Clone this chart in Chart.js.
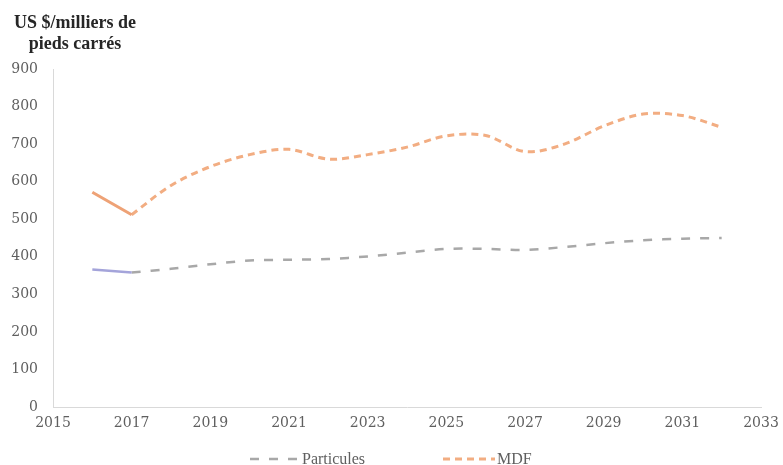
<!DOCTYPE html>
<html>
<head>
<meta charset="utf-8">
<script src="https://cdn.jsdelivr.net/npm/chart.js@4.4.1/dist/chart.umd.min.js"></script>
<style>
  html, body { margin: 0; padding: 0; background: #ffffff; }
  #wrap { width: 783px; height: 465px; position: relative; }
</style>
</head>
<body>
<div id="wrap"><canvas id="c" width="783" height="465"></canvas></div>
<script>
// Prix des panneaux, US $ par milliers de pieds carrés
const years      = [2016, 2017, 2018, 2019, 2020, 2021, 2022, 2023, 2024, 2025, 2026, 2027, 2028, 2029, 2030, 2031, 2032];
const particules = [366, 358, 368, 380, 390, 392, 394, 401, 411, 421, 421, 418, 426, 436, 444, 448, 450];
const mdf        = [572, 512, 590, 640, 672, 686, 660, 672, 692, 722, 723, 680, 700, 748, 780, 776, 745];
// number of observed years (solid); the rest is projected (dashed)
const observedCount = 2;

const seriesNames = ['Particules', 'MDF'];
const unitLines   = ['US $/milliers de', 'pieds carrés'];

const xMin = 2015, xMax = 2033, xStep = 2;
const yMin = 0, yMax = 900, yStep = 100;

const TICK_COLOR = '#5f5f5f';
const AXIS_COLOR = '#d9d9d9';
const GREY = '#a8a8a8';
const LAVENDER = '#a4a4da';
const ORANGE = '#f2ad82';
const ORANGE_SOLID = '#eea276';

const DASH_PART = [9, 10];
const DASH_MDF = [7, 5];
const TENSION = 0.33;

function points(values, from, to) {
  const xs = years.slice(from, to);
  const ys = values.slice(from, to);
  return xs.map((x, i) => ({ x: x, y: ys[i] }));
}

function lineSet(name, values, observed, color, width, dash) {
  return {
    label: name,
    data: observed ? points(values, 0, observedCount) : points(values, observedCount - 1),
    borderColor: color,
    borderWidth: width,
    borderDash: dash,
    pointRadius: 0,
    tension: TENSION,
    fill: false
  };
}

// unit caption above the y axis and the key under the x axis
const headerAndKey = {
  id: 'headerAndKey',
  afterDraw(chart) {
    const ctx = chart.ctx;
    ctx.save();
    ctx.fillStyle = '#262626';
    ctx.font = 'bold 18px "Liberation Serif"';
    ctx.textAlign = 'center';
    ctx.textBaseline = 'alphabetic';
    ctx.fillText(unitLines[0], 75, 28);
    ctx.fillText(unitLines[1], 75, 49);

    const keyY = 459;
    ctx.lineCap = 'butt';
    ctx.lineWidth = 2.5;
    ctx.strokeStyle = GREY;
    ctx.setLineDash(DASH_PART);
    ctx.beginPath(); ctx.moveTo(250, keyY); ctx.lineTo(301, keyY); ctx.stroke();
    ctx.lineWidth = 3;
    ctx.strokeStyle = ORANGE;
    ctx.setLineDash(DASH_MDF);
    ctx.beginPath(); ctx.moveTo(443, keyY); ctx.lineTo(495, keyY); ctx.stroke();
    ctx.setLineDash([]);
    ctx.fillStyle = TICK_COLOR;
    ctx.font = '16px "Liberation Serif"';
    ctx.textAlign = 'left';
    ctx.fillText(seriesNames[0], 302, 464);
    ctx.fillText(seriesNames[1], 497, 464);
    ctx.restore();
  }
};

new Chart(document.getElementById('c'), {
  type: 'line',
  data: {
    datasets: [
      lineSet(seriesNames[0], particules, true, LAVENDER, 2.5, []),
      lineSet(seriesNames[0], particules, false, GREY, 2.5, DASH_PART),
      lineSet(seriesNames[1], mdf, true, ORANGE_SOLID, 3, []),
      lineSet(seriesNames[1], mdf, false, ORANGE, 3, DASH_MDF)
    ]
  },
  options: {
    responsive: false,
    animation: false,
    devicePixelRatio: 1,
    layout: { padding: { top: 69, right: 22, bottom: 0, left: 0 } },
    plugins: {
      legend: { display: false },
      tooltip: { enabled: false }
    },
    scales: {
      x: {
        type: 'linear',
        min: xMin, max: xMax,
        grid: { display: false, drawTicks: false },
        border: { display: true, color: AXIS_COLOR, width: 1 },
        ticks: {
          stepSize: xStep,
          color: TICK_COLOR,
          font: { family: 'DejaVu Serif', size: 14 },
          padding: 8,
          maxRotation: 0,
          callback: v => String(v)
        },
        afterFit(scale) {
          scale.height = 58;
          scale.paddingLeft = 0;
          scale.paddingRight = 0;
        }
      },
      y: {
        min: yMin, max: yMax,
        grid: { display: false, drawTicks: false },
        border: { display: true, color: AXIS_COLOR, width: 1 },
        ticks: {
          stepSize: yStep,
          color: TICK_COLOR,
          font: { family: 'DejaVu Serif', size: 14 },
          padding: 15
        },
        afterFit(scale) {
          scale.width = 53;
          scale.paddingTop = 0;
          scale.paddingBottom = 0;
        }
      }
    }
  },
  plugins: [headerAndKey]
});
</script>
</body>
</html>
